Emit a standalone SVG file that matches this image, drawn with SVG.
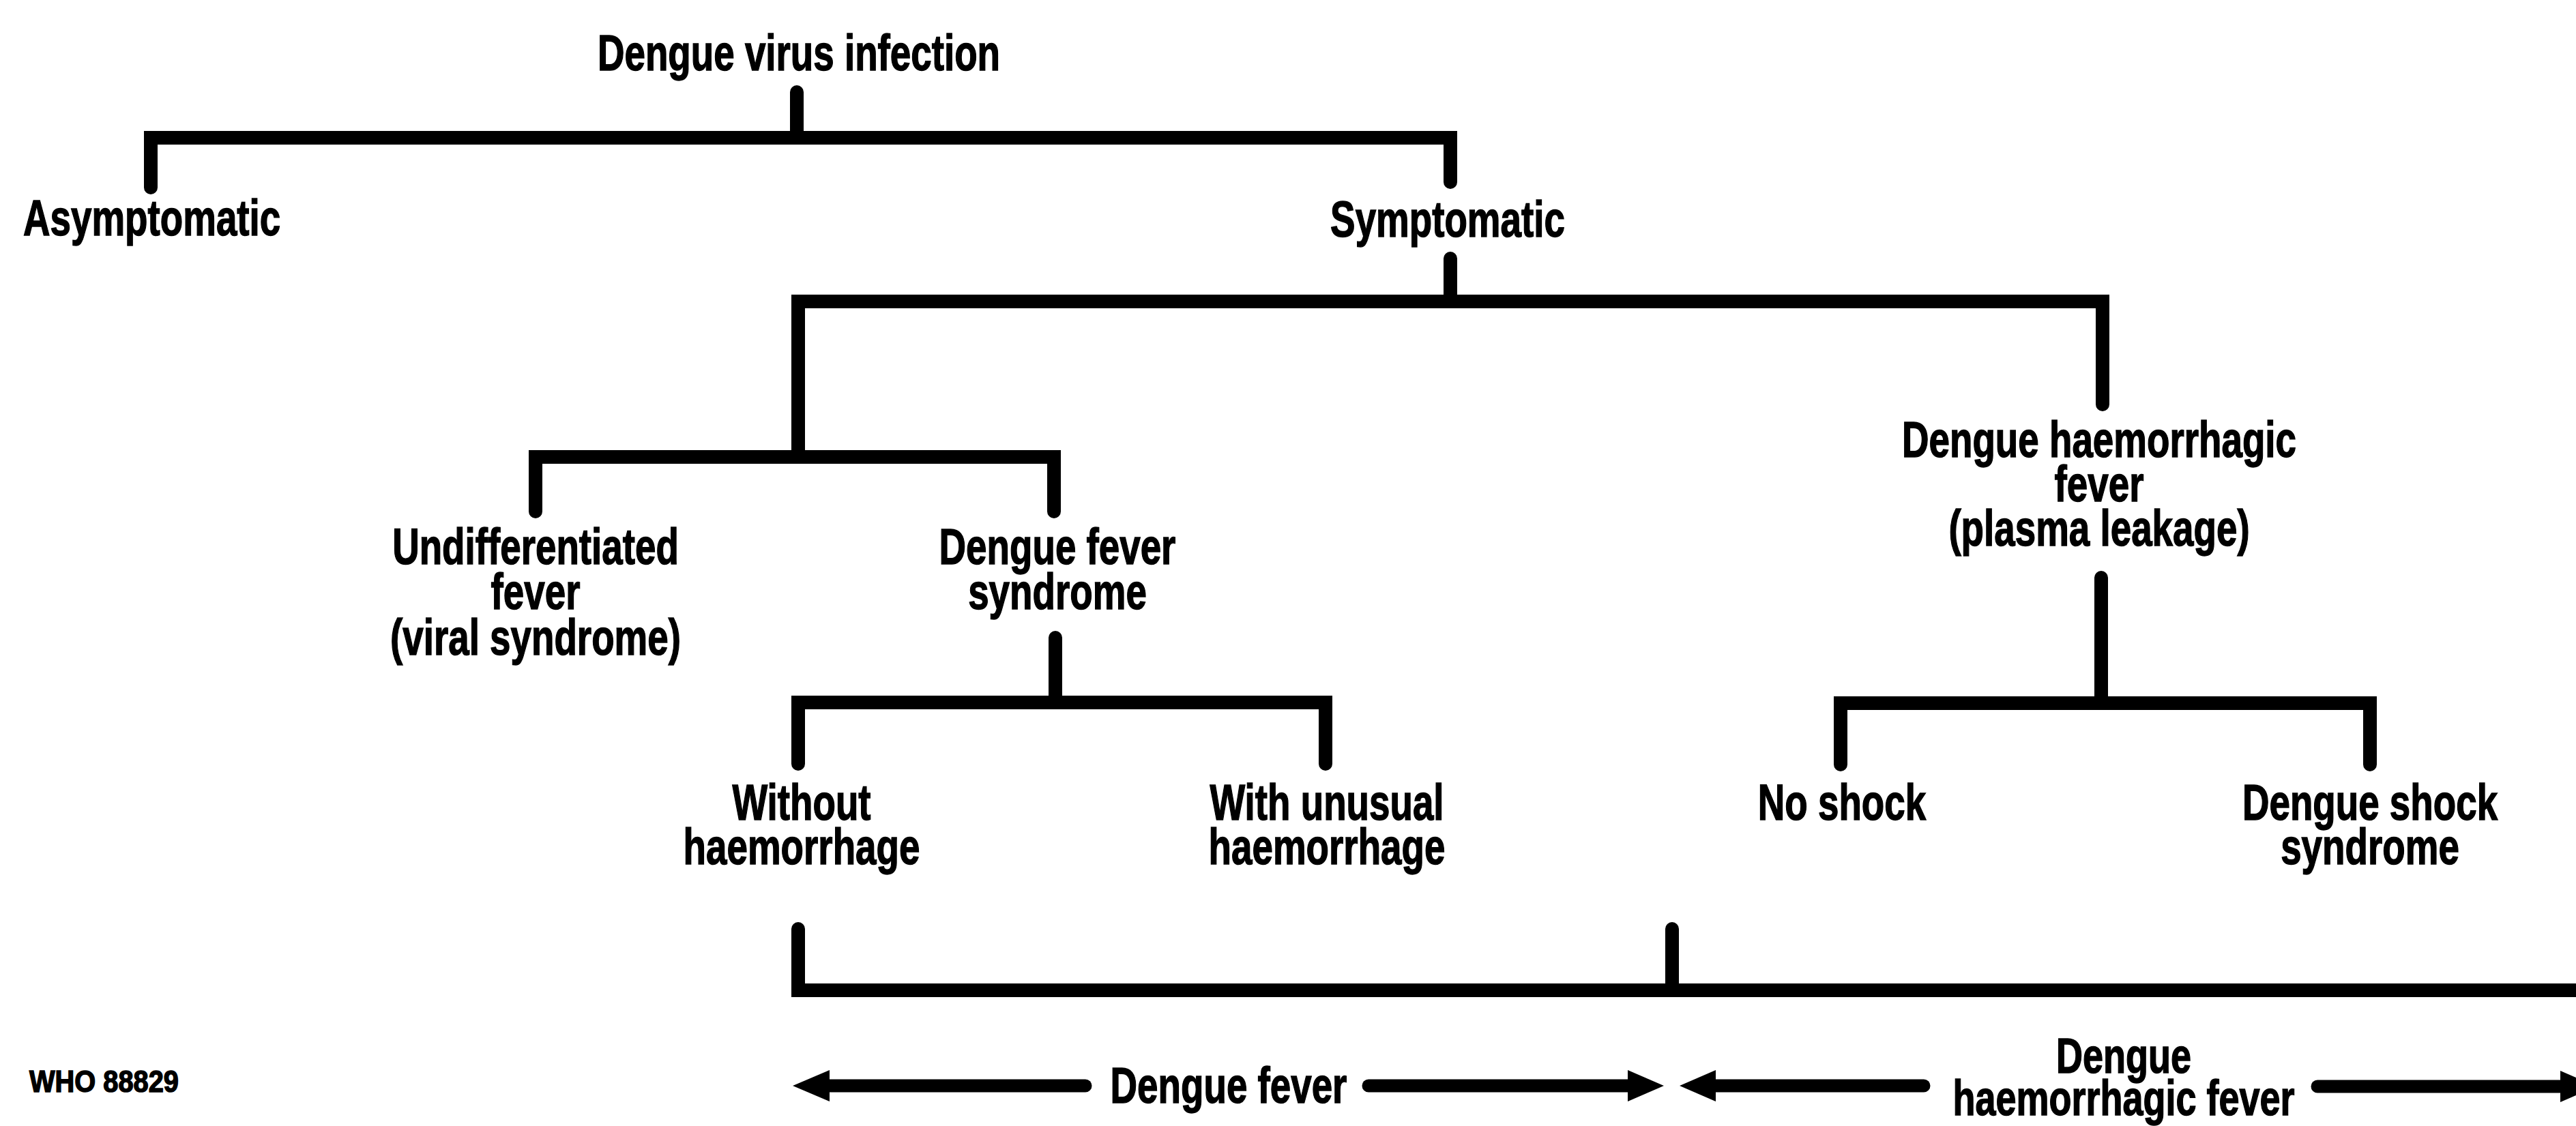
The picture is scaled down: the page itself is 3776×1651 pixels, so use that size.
<svg xmlns="http://www.w3.org/2000/svg" width="3776" height="1651" viewBox="0 0 3776 1651">
<style>
.t{font-family:"Liberation Sans",Arial,sans-serif;font-weight:bold;font-size:74px;fill:#000;stroke:#000;stroke-width:1.5;text-anchor:middle}
.s{text-anchor:start}
.c{fill:none;stroke:#000;stroke-width:20;stroke-linecap:round;stroke-linejoin:miter}
.a{fill:none;stroke:#000;stroke-width:19;stroke-linecap:round}
.h{fill:#000;stroke:none}
</style>
<rect width="3776" height="1651" fill="#fff"/>
<g id="connectors">
<path class="c" d="M1168,135 V202"/>
<path class="c" d="M221,275 V202 H2126 V267"/>
<path class="c" d="M2126,379 V442"/>
<path class="c" d="M1170,670 V442 H3082 V593"/>
<path class="c" d="M785,750 V670 H1545 V750"/>
<path class="c" d="M1547,935 V1030"/>
<path class="c" d="M1170,1120 V1030 H1943 V1120"/>
<path class="c" d="M3080,847 V1031"/>
<path class="c" d="M2698,1121 V1031 H3474 V1121"/>
<path class="c" d="M1170,1362 V1452 H3800"/>
<path class="c" d="M2451,1362 V1452"/>
</g>
<g id="arrows">
<line class="a" x1="1205" y1="1592" x2="1591" y2="1592"/>
<polygon class="h" points="1162,1592 1216,1569 1216,1615"/>
<line class="a" x1="2006" y1="1592" x2="2395" y2="1592"/>
<polygon class="h" points="2439,1592 2386,1569 2386,1615"/>
<line class="a" x1="2505" y1="1592" x2="2820" y2="1592"/>
<polygon class="h" points="2462,1592 2515,1569 2515,1615"/>
<line class="a" x1="3397" y1="1593" x2="3760" y2="1593"/>
<polygon class="h" points="3806,1593 3753,1570 3753,1616"/>
</g>
<g id="n-root"><text class="t" transform="translate(1171,103) scale(0.74,1)">Dengue virus infection</text></g>
<g id="n-asym"><text class="t s" transform="translate(34,345) scale(0.74,1)">Asymptomatic</text></g>
<g id="n-sym"><text class="t" transform="translate(2122,347) scale(0.74,1)">Symptomatic</text></g>
<g id="n-undiff"><text class="t" transform="translate(785,827) scale(0.74,1)"><tspan x="0" y="0">Undifferentiated</tspan><tspan x="0" y="66">fever</tspan><tspan x="0" y="133">(viral syndrome)</tspan></text></g>
<g id="n-dfs"><text class="t" transform="translate(1550,827) scale(0.74,1)"><tspan x="0" y="0">Dengue fever</tspan><tspan x="0" y="66">syndrome</tspan></text></g>
<g id="n-dhf"><text class="t" transform="translate(3077,670) scale(0.74,1)"><tspan x="0" y="0">Dengue haemorrhagic</tspan><tspan x="0" y="65">fever</tspan><tspan x="0" y="130">(plasma leakage)</tspan></text></g>
<g id="n-without"><text class="t" transform="translate(1175,1202) scale(0.74,1)"><tspan x="0" y="0">Without</tspan><tspan x="0" y="65">haemorrhage</tspan></text></g>
<g id="n-with"><text class="t" transform="translate(1945,1202) scale(0.74,1)"><tspan x="0" y="0">With unusual</tspan><tspan x="0" y="65">haemorrhage</tspan></text></g>
<g id="n-noshock"><text class="t" transform="translate(2700,1202) scale(0.74,1)">No shock</text></g>
<g id="n-dss"><text class="t" transform="translate(3474,1202) scale(0.74,1)"><tspan x="0" y="0">Dengue shock</tspan><tspan x="0" y="65">syndrome</tspan></text></g>
<g id="n-df"><text class="t" transform="translate(1801,1617) scale(0.74,1)">Dengue fever</text></g>
<g id="n-dhf2"><text class="t" style="font-size:72px" transform="translate(3113,1573) scale(0.75,1)"><tspan x="0" y="0">Dengue</tspan><tspan x="0" y="62">haemorrhagic fever</tspan></text></g>
<g id="n-who"><text class="t s" style="font-size:44px" x="43" y="1601" textLength="219" lengthAdjust="spacingAndGlyphs">WHO 88829</text></g>
</svg>
